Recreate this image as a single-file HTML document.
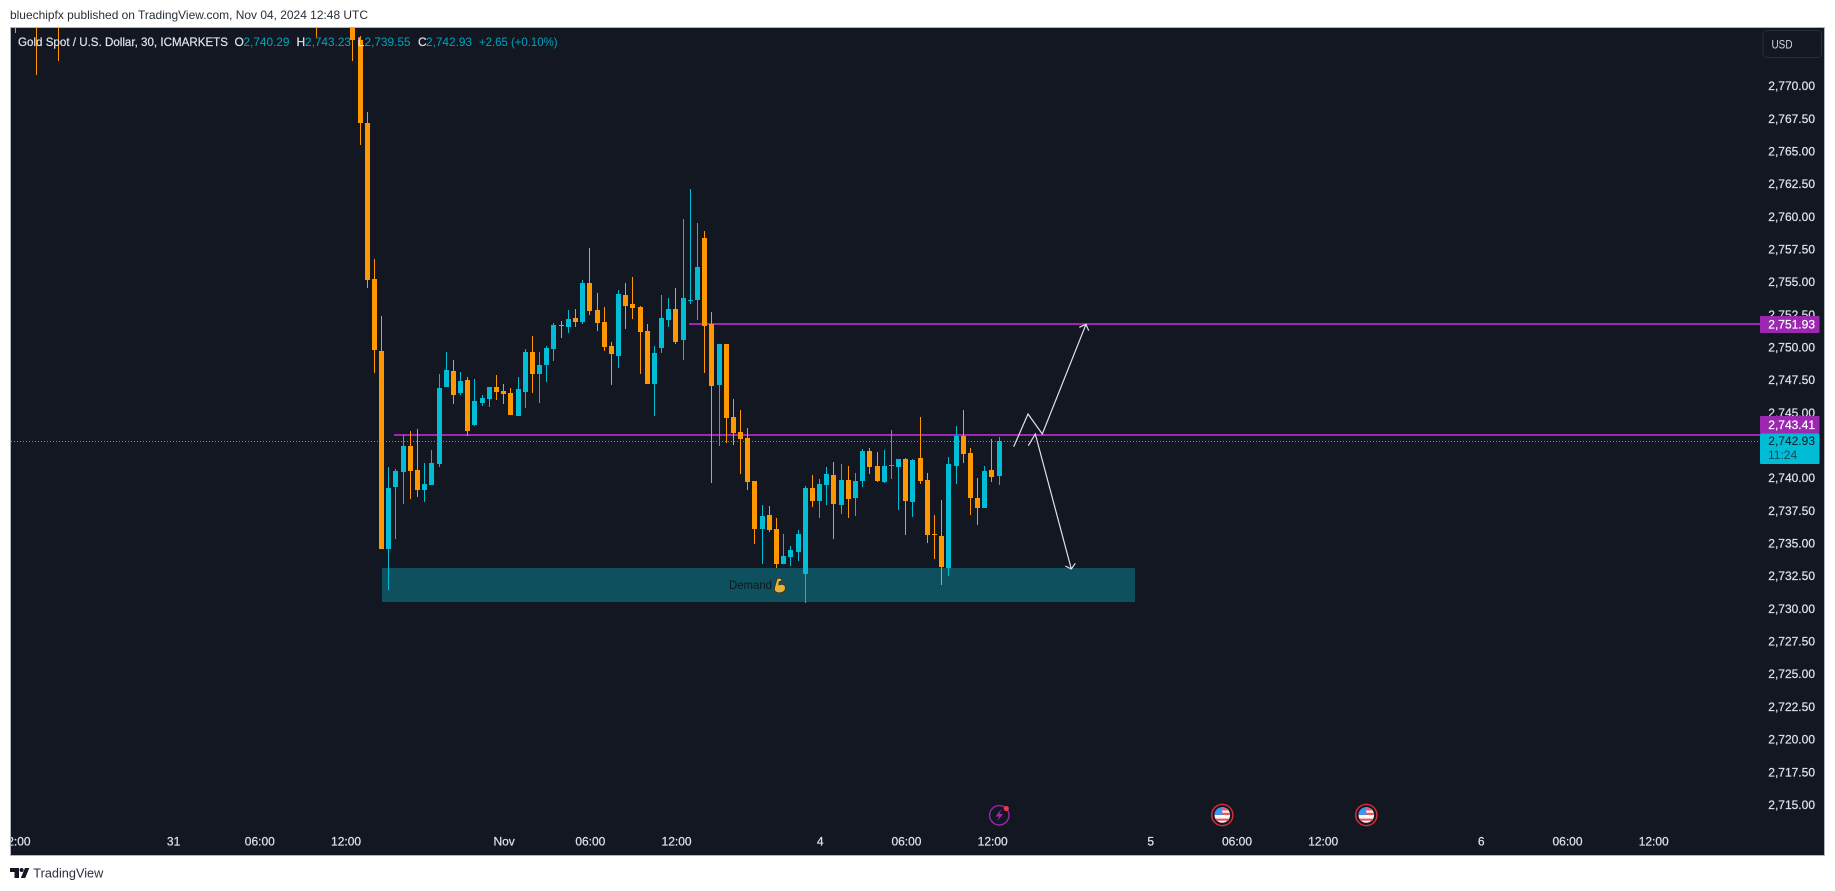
<!DOCTYPE html>
<html lang="en">
<head>
<meta charset="utf-8">
<title>Gold Spot / U.S. Dollar chart</title>
<style>
html,body{margin:0;padding:0;background:#fff;width:1835px;height:891px;overflow:hidden}
svg{display:block}
text{font-family:"Liberation Sans",sans-serif}
</style>
</head>
<body>
<svg id="chart" xmlns="http://www.w3.org/2000/svg" width="1835" height="891" viewBox="0 0 1835 891">
  <defs>
    <clipPath id="plot-clip"><rect x="11" y="28" width="1813" height="827"/></clipPath>
  </defs>
  <text x="10" y="19" font-size="12" fill="#2a2e39" textLength="358" lengthAdjust="spacingAndGlyphs">bluechipfx published on TradingView.com, Nov 04, 2024 12:48 UTC</text>
  <rect x="10.5" y="27.5" width="1814" height="828" fill="#131722" stroke="#b2b5be" stroke-width="1"/>
  <g id="plot" clip-path="url(#plot-clip)"></g>
  <g id="axis"></g>

  <g>
    <rect x="1763" y="30.5" width="58.5" height="27" rx="4" fill="#131722" stroke="#2a2e39" stroke-width="1"/>
    <text x="1771.5" y="48.5" font-size="12" fill="#d1d4dc" textLength="21" lengthAdjust="spacingAndGlyphs">USD</text>
  </g>

  <g font-size="12" stroke-width="0.2">
    <text x="18" y="46" fill="#e0e3eb" stroke="#e0e3eb" textLength="210" lengthAdjust="spacingAndGlyphs">Gold Spot / U.S. Dollar, 30, ICMARKETS</text>
    <text x="234.5" y="46" fill="#e0e3eb" stroke="#e0e3eb">O</text>
    <text x="243.5" y="46" fill="#00a5bb" textLength="46" lengthAdjust="spacingAndGlyphs">2,740.29</text>
    <text x="296.5" y="46" fill="#e0e3eb" stroke="#e0e3eb">H</text>
    <text x="305" y="46" fill="#00a5bb" textLength="46" lengthAdjust="spacingAndGlyphs">2,743.23</text>
    <text x="357.5" y="46" fill="#e0e3eb" stroke="#e0e3eb">L</text>
    <text x="364.5" y="46" fill="#00a5bb" textLength="46" lengthAdjust="spacingAndGlyphs">2,739.55</text>
    <text x="418" y="46" fill="#e0e3eb" stroke="#e0e3eb">C</text>
    <text x="426" y="46" fill="#00a5bb" textLength="46" lengthAdjust="spacingAndGlyphs">2,742.93</text>
    <text x="479" y="46" fill="#00a5bb" textLength="78.5" lengthAdjust="spacingAndGlyphs">+2.65 (+0.10%)</text>
  </g>

  <g>
    <circle cx="999.3" cy="815.3" r="9.7" fill="none" stroke="#9c27b0" stroke-width="1.4"/>
    <polygon points="1001.5,809 995.5,816.5 999,816.5 997,821.5 1003,814 999.5,814" fill="#9c27b0"/>
    <circle cx="1006.3" cy="808.5" r="2.6" fill="#f23645"/>
  </g>
  <g transform="translate(1222.3 815)">
    <circle r="10.6" fill="#131722" stroke="#d42a3c" stroke-width="1.5"/>
    <circle r="7.8" fill="#f7f7f7"/>
    <path d="M-7.6-2.2h15.2v2.2h-15.2z M-6.2 3.6h12.4v2.2h-12.4z M0-7.5a7.8 7.8 0 0 1 6 3h-6z" fill="#f0525f"/>
    <path d="M0-7.8a7.8 7.8 0 0 0-7.8 7.8h7.8z" fill="#3f93ea"/>
  </g>
  <g transform="translate(1366.3 815)">
    <circle r="10.6" fill="#131722" stroke="#d42a3c" stroke-width="1.5"/>
    <circle r="7.8" fill="#f7f7f7"/>
    <path d="M-7.6-2.2h15.2v2.2h-15.2z M-6.2 3.6h12.4v2.2h-12.4z M0-7.5a7.8 7.8 0 0 1 6 3h-6z" fill="#f0525f"/>
    <path d="M0-7.8a7.8 7.8 0 0 0-7.8 7.8h7.8z" fill="#3f93ea"/>
  </g>

  <g>
    <path d="M10 868h9v10h-4.5v-6H10z M25 868h4.3L25.2 878h-4.4z" fill="#131722"/>
    <circle cx="21.6" cy="870" r="2" fill="#131722"/>
    <text x="33.3" y="877.5" font-size="13" fill="#2a2e39" textLength="70" lengthAdjust="spacingAndGlyphs">TradingView</text>
  </g>
</svg>
<script>
// Bar positions on the time axis (0 = first fully visible candle, 88 = latest).
const barIndex = [-49,-46,-43,-7,-2,-1,0,1,2,3,4,5,6,7,8,9,10,11,12,13,14,15,16,17,18,19,20,21,22,23,24,25,26,27,28,29,30,31,32,33,34,35,36,37,38,39,40,41,42,43,44,45,46,47,48,49,50,51,52,53,54,55,56,57,58,59,60,61,62,63,64,65,66,67,68,69,70,71,72,73,74,75,76,77,78,79,80,81,82,83,84,85,86,87,88];
const opens = [2783,2783,2783,2783,2778,2773.64,2767.28,2755.35,2749.84,2734.69,2739.43,2740.58,2742.57,2740.73,2739.20,2739.58,2741.19,2747.09,2748.31,2746.62,2747.62,2744.18,2745.86,2746.17,2747.09,2746.78,2746.62,2744.87,2746.70,2749.76,2748.08,2748.77,2749.99,2751.83,2751.68,2752.36,2752.06,2755.04,2752.98,2752.06,2750.22,2749.46,2754.12,2753.43,2753.20,2751.37,2747.31,2750.07,2752.21,2753.05,2750.68,2753.66,2753.74,2758.49,2751.91,2747.24,2750.38,2744.79,2743.64,2743.18,2739.89,2736.22,2737.29,2736.22,2733.54,2734.08,2734.46,2732.78,2739.36,2738.36,2739.58,2740.35,2738.06,2739.97,2738.59,2739.89,2742.19,2741.04,2739.81,2741.04,2740.96,2741.58,2738.29,2741.65,2739.97,2735.84,2735.69,2733.24,2741.04,2743.33,2742.03,2738.59,2737.83,2740.73,2740.29];
const highs = [2785,2785,2785,2785,2780,2773.94,2768.12,2756.88,2752.52,2740.96,2740.81,2743.41,2743.72,2743.87,2741.27,2742.26,2748.08,2749.76,2749.15,2748.23,2747.85,2747.70,2746.47,2747.09,2748.00,2747.31,2747.01,2747.85,2749.99,2750.99,2749.76,2750.22,2751.98,2752.14,2752.98,2753.05,2755.27,2757.72,2754.27,2753.20,2750.53,2754.51,2755.04,2755.50,2753.28,2751.91,2750.22,2754.12,2753.89,2754.66,2759.94,2762.23,2759.63,2759.02,2752.82,2750.38,2750.38,2746.17,2745.32,2743.95,2739.89,2738.06,2737.98,2737.06,2735.84,2734.92,2736.14,2739.51,2740.35,2740.05,2740.96,2741.34,2741.19,2741.04,2740.50,2742.34,2742.42,2742.11,2742.26,2743.80,2741.58,2741.65,2741.58,2744.79,2740.50,2737.29,2738.44,2741.73,2744.10,2745.32,2742.42,2740.12,2741.04,2743.11,2743.23];
const lows = [2774.17,2770.98,2772.03,2773.86,2772.03,2765.60,2754.66,2748.16,2734.69,2731.55,2735.46,2738.13,2738.52,2738.67,2738.29,2739.58,2740.96,2747.09,2745.78,2746.47,2743.33,2744.10,2745.63,2745.55,2746.09,2745.78,2744.94,2744.87,2745.48,2746.62,2745.86,2747.47,2749.07,2750.83,2751.22,2751.68,2751.91,2752.59,2751.37,2749.84,2747.24,2748.54,2751.52,2752.29,2748.08,2747.31,2744.87,2749.68,2751.68,2750.38,2749.15,2753.43,2752.21,2748.16,2739.74,2742.57,2742.80,2742.65,2740.43,2739.20,2735.07,2733.54,2735.99,2733.24,2733.54,2733.39,2733.77,2730.56,2737.90,2737.06,2738.06,2735.46,2737.37,2737.06,2737.22,2739.43,2740.43,2739.81,2739.74,2740.05,2737.68,2735.76,2737.14,2739.66,2735.15,2733.92,2731.93,2732.62,2739.66,2741.27,2737.29,2736.53,2737.83,2739.81,2739.55];
const closes = [2780,2780,2780,2780,2773.64,2767.29,2755.27,2749.91,2734.69,2739.36,2740.65,2742.57,2740.65,2739.20,2739.66,2741.27,2747.01,2748.38,2746.47,2747.54,2743.72,2746.01,2746.24,2747.09,2746.70,2746.55,2744.94,2746.93,2749.76,2748.08,2748.77,2750.07,2751.83,2751.75,2752.29,2752.06,2755.04,2752.90,2751.98,2750.14,2749.61,2754.20,2753.28,2753.13,2751.29,2747.31,2749.68,2752.36,2753.05,2750.53,2753.89,2753.74,2756.23,2751.75,2747.16,2750.38,2744.71,2743.56,2743.11,2739.81,2736.22,2737.22,2736.14,2733.54,2734.15,2734.61,2735.84,2739.36,2738.36,2739.66,2740.43,2738.13,2739.97,2738.52,2739.89,2742.19,2740.96,2739.89,2741.04,2741.12,2741.58,2738.36,2741.50,2739.89,2735.76,2735.76,2733.31,2741.19,2743.33,2741.96,2738.59,2737.83,2740.65,2740.20,2742.93];

const priceTicks = [2770,2767.5,2765,2762.5,2760,2757.5,2755,2752.5,2750,2747.5,2745,2742.5,2740,2737.5,2735,2732.5,2730,2727.5,2725,2722.5,2720,2717.5,2715];
const timeTickBars = [-49,-27,-15,-3,19,31,43,63,75,87,109,121,133,155,167,179];
const timeTickLabels = ["12:00","31","06:00","12:00","Nov","06:00","12:00","4","06:00","12:00","5","06:00","12:00","6","06:00","12:00"];

const lastClose = 2742.93;
const levelHigh = 2751.93;
const levelMid = 2743.41;
const demandTop = 2733.24;
const demandBottom = 2730.64;

const NS = 'http://www.w3.org/2000/svg';
const yScale = function (p) { return 441.3 + (lastClose - p) * 13.07; };
const xScale = function (i) { return Math.floor(367.25 + 7.18 * i); };
const xLabel = function (i) { return 367.6 + 7.185 * i; };
const fmtPrice = function (p) {
  return p.toFixed(2).replace(/\B(?=(\d{3})+(?!\d))(?=.*\.)/g, ',');
};
function make(tag, attrs, parent) {
  const el = document.createElementNS(NS, tag);
  for (const k in attrs) el.setAttribute(k, attrs[k]);
  parent.appendChild(el);
  return el;
}
const plot = document.getElementById('plot');
const axis = document.getElementById('axis');

// demand zone, behind the candles
const zoneTop = Math.round(yScale(demandTop));
const zone = make('rect', {x: 382, y: zoneTop, width: 753, height: Math.round(yScale(demandBottom)) - zoneTop, fill: '#0e505d'}, plot);


const zoneLabel = make('text', {x: 729, y: Math.round(yScale(demandBottom)) - 13, 'font-size': 12, fill: '#0b1a22', textLength: 43, lengthAdjust: 'spacingAndGlyphs'}, plot);
zoneLabel.textContent = 'Demand';


const arm = make('path', {d: 'M776 592c-2-1-2-3-1-6l2-7c1-1 3-1 5 0l-1 2-2 1 0 3c2-1 5-1 6 1 1 3 0 5-2 6-2 1-5 1-7 0z', fill: '#e5b33b', stroke: '#3a2f10', 'stroke-width': 0.8}, plot);



// dotted last-price line
const lastY = Math.floor(yScale(lastClose));
const lastLine = make('line', {x1: 11, x2: 1760, y1: lastY + 0.5, y2: lastY + 0.5, stroke: '#00bcd4', 'stroke-width': 1, 'stroke-dasharray': '1 2'}, plot);



// horizontal levels, behind the candles
const lineHigh = make('rect', {x: 689, y: Math.round(yScale(levelHigh)) - 1, width: 1071, height: 2, fill: '#9c27b0'}, plot);


const lineMid = make('rect', {x: 394, y: Math.round(yScale(levelMid)) - 1, width: 1366, height: 2, fill: '#9c27b0'}, plot);



// candles
barIndex.forEach(function (bar, n) {
  const o = opens[n], h = highs[n], l = lows[n], c = closes[n];
  const up = c >= o;
  const color = up ? '#00bcd4' : '#ff9800';
  const x = xScale(bar);
  const g = make('g', {fill: color, 'shape-rendering': 'crispEdges'}, plot);
  
  
  const yh = Math.round(yScale(h)), yl = Math.round(yScale(l));
  make('rect', {x: x, y: yh, width: 1, height: Math.max(1, yl - yh)}, g);
  const yt = Math.round(yScale(Math.max(o, c))), yb = Math.round(yScale(Math.min(o, c)));
  make('rect', {x: x - 2, y: yt, width: 5, height: Math.max(1, yb - yt)}, g);
});

// hand-drawn projection arrows
const upArrow = make('path', {d: 'M1013.7 446.7L1028 414L1042.3 434L1086 324.3M1079.3 327.3L1086 324.3L1088.7 330.7', fill: 'none', stroke: '#dfe1e6', 'stroke-width': 1.2}, plot);


const downArrow = make('path', {d: 'M1028.3 445.7L1035.3 434L1071.3 569M1065.3 566L1071.3 569L1075.3 563.3', fill: 'none', stroke: '#dfe1e6', 'stroke-width': 1.2}, plot);



// price axis ticks
priceTicks.forEach(function (p) {
  const t = make('text', {x: 1815, y: yScale(p) + 2.6, 'font-size': 12, fill: '#e0e3eb', stroke: '#e0e3eb', 'stroke-width': 0.2, 'text-anchor': 'end'}, axis);
  t.textContent = fmtPrice(p);
  
  
});

// time axis ticks
timeTickBars.forEach(function (bar, n) {
  const t = make('text', {x: xLabel(bar), y: 845.5, 'font-size': 12, fill: '#e0e3eb', stroke: '#e0e3eb', 'stroke-width': 0.2, 'text-anchor': 'middle', 'clip-path': 'url(#plot-clip)'}, axis);
  t.textContent = timeTickLabels[n];
  
  
});

// price labels on the axis
function priceTag(name, price, top, height) {
  const g = make('g', {}, axis);
  
  
  make('rect', {x: 1760, y: top, width: 59.5, height: height, rx: 1, fill: '#9c27b0'}, g);
  const t = make('text', {x: 1815, y: top + height / 2 + 4, 'font-size': 12, fill: '#ffffff', stroke: '#ffffff', 'stroke-width': 0.2, 'text-anchor': 'end'}, g);
  t.textContent = fmtPrice(price);
}
priceTag('price-label-upper', levelHigh, 316, 17);
priceTag('price-label-mid', levelMid, 416, 17.5);

const lastTag = make('g', {}, axis);


make('rect', {x: 1760, y: 433.5, width: 59.5, height: 30.5, rx: 1, fill: '#00bcd4'}, lastTag);
const lastText = make('text', {x: 1815, y: 445, 'font-size': 12, fill: '#131722', 'text-anchor': 'end'}, lastTag);
lastText.textContent = fmtPrice(lastClose);
const countdown = make('text', {x: 1768, y: 459, 'font-size': 12, fill: '#0b4b57'}, lastTag);
countdown.textContent = '11:24';
</script>
</body>
</html>
